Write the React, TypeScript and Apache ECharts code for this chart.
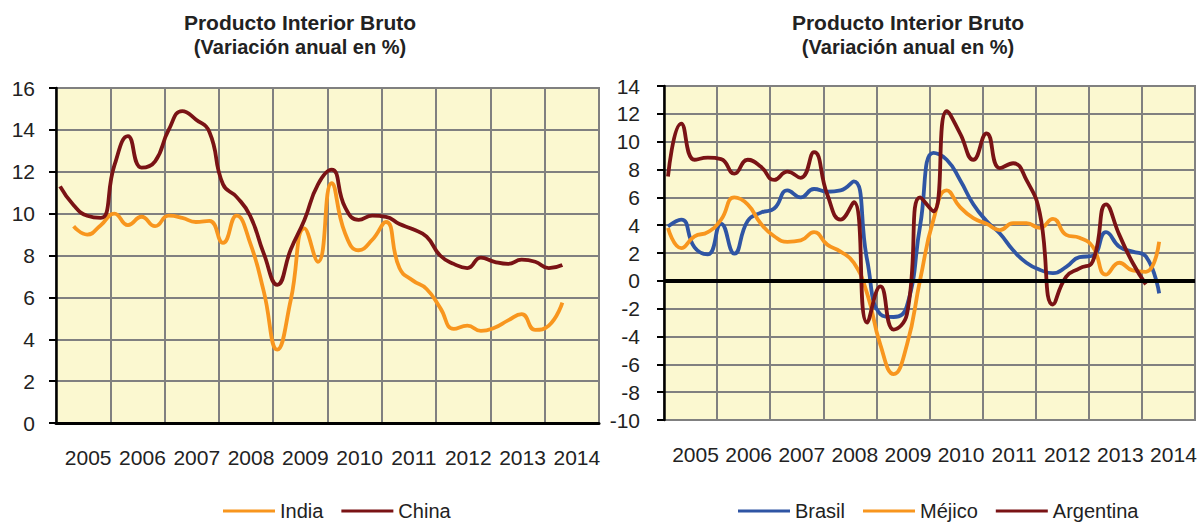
import React, { useEffect, useRef } from "react";
import * as echarts from "echarts";

// Year labels (category axis) – each year is one column of four quarters
const years = ["2005", "2006", "2007", "2008", "2009", "2010", "2011", "2012", "2013", "2014"];

// Quarterly year-on-year GDP growth (%), 2005Q1 onwards (null = no data)
const india = [null, 9.4, 9.0, 9.45, 10.0, 9.45, 9.85, 9.4, 9.9, 9.8, 9.6, 9.65, 8.6, 9.9, 8.6, 6.3, 3.5, 5.9, 9.3, 7.7, 11.45, 9.05, 8.25, 8.75, 9.6, 7.4, 6.8, 6.4, 5.5, 4.5, 4.65, 4.4, 4.55, 4.9, 5.2, 4.45, 4.65, 5.75];
const china = [11.3, 10.4, 9.9, 9.8, 12.3, 13.7, 12.2, 12.5, 14.0, 14.9, 14.5, 13.9, 11.4, 10.8, 9.9, 8.1, 6.6, 8.3, 9.7, 11.4, 12.1, 10.3, 9.7, 9.9, 9.85, 9.5, 9.25, 8.9, 8.0, 7.6, 7.4, 7.9, 7.7, 7.6, 7.8, 7.7, 7.4, 7.55];
const brasil = [3.9, 4.4, 2.4, 1.9, 4.1, 1.95, 4.3, 4.9, 5.2, 6.5, 6.0, 6.6, 6.4, 6.5, 7.15, 1.5, -2.4, -2.6, -1.8, 4.0, 9.2, 8.7, 7.25, 5.5, 4.3, 3.4, 2.2, 1.3, 0.8, 0.55, 1.0, 1.7, 1.8, 3.5, 2.45, 2.1, 1.75, -0.9];
const mejico = [3.8, 2.35, 3.2, 3.5, 4.4, 6.0, 5.5, 4.1, 3.2, 2.8, 2.9, 3.5, 2.6, 2.1, 1.3, -0.9, -4.6, -6.7, -4.6, 0.1, 4.4, 6.5, 5.3, 4.5, 4.1, 3.65, 4.15, 4.15, 3.8, 4.45, 3.3, 3.1, 2.45, 0.45, 1.3, 0.75, 0.65, 2.8];
const argentina = [7.5, 11.3, 8.7, 8.85, 8.75, 7.7, 8.7, 8.2, 7.25, 7.85, 7.4, 9.25, 6.2, 4.4, 5.65, -3.0, -0.4, -3.5, -2.4, 6.0, 5.0, 12.2, 10.6, 8.7, 10.6, 8.1, 8.45, 7.25, 4.9, -1.7, 0.3, 0.9, 1.4, 5.5, 3.3, 1.3, -0.25];

const leftTitle = "Producto Interior Bruto";
const leftSubtitle = "(Variación anual en %)";
const rightTitle = "Producto Interior Bruto";
const rightSubtitle = "(Variación anual en %)";

const FONT = "'Liberation Sans', Arial, sans-serif";
const ORANGE = "#F8961E";
const DARKRED = "#7A1315";
const BLUE = "#2F55A4";
const GRIDC = "#808080";
const TXT = "#222222";

const toXY = (vals: (number | null)[]) =>
  vals
    .map((v, i) => (v == null ? null : [i + 0.3, v]))
    .filter((p) => p !== null);

function lineSeries(name: string, data: (number | null)[], color: string, xi: number, yi: number, extra: any = {}) {
  return {
    name,
    type: "line",
    xAxisIndex: xi,
    yAxisIndex: yi,
    data: toXY(data),
    smooth: 0.5,
    symbol: "none",
    lineStyle: { color, width: 3.8 },
    itemStyle: { color },
    ...extra,
  };
}

export default function App() {
  const ref = useRef<HTMLDivElement>(null);
  useEffect(() => {
    if (!ref.current) return;
    const chart = echarts.init(ref.current, undefined, { renderer: "svg" });
    const catAxis = (gridIndex: number, showLine: boolean) => ({
      type: "category",
      gridIndex,
      data: years,
      position: "bottom",
      boundaryGap: true,
      axisLine: { show: showLine, onZero: false, lineStyle: { color: "#000", width: 3 } },
      axisTick: { show: false },
      axisLabel: { interval: 0, fontSize: 21, color: TXT, fontFamily: FONT, margin: 24, padding: [0, 0, 0, 10] },
      splitLine: { show: true, interval: 0, lineStyle: { color: GRIDC, width: 2 } },
    });
    const valX = (gridIndex: number) => ({
      type: "value",
      gridIndex,
      min: 0,
      max: 40,
      position: "bottom",
      show: false,
    });
    const valY = (gridIndex: number, min: number, max: number, margin: number) => ({
      type: "value",
      gridIndex,
      min,
      max,
      interval: 2,
      axisLine: { show: true, onZero: false, lineStyle: { color: "#000", width: 2.5 } },
      axisTick: { show: true, length: 7, lineStyle: { color: "#000", width: 2 } },
      axisLabel: { fontSize: 21, color: TXT, fontFamily: FONT, margin },
      splitLine: { show: true, lineStyle: { color: GRIDC, width: 2 } },
    });
    const gridBox = { show: true, backgroundColor: "#FBF8D0", borderColor: GRIDC, borderWidth: 2 };
    const legendBase = {
      top: 496,
      itemWidth: 52,
      itemHeight: 3,
      itemGap: 18,
      icon: "rect",
      textStyle: { fontSize: 20, color: TXT, fontFamily: FONT },
    };
    const titleText = (x: number, y: number, text: string, size: number) => ({
      type: "text",
      x,
      y,
      style: {
        text,
        font: `bold ${size}px ${FONT}`,
        fill: TXT,
        align: "center",
        verticalAlign: "middle",
      },
    });

    chart.setOption({
      animation: false,
      backgroundColor: "#ffffff",
      textStyle: { fontFamily: FONT },
      graphic: [
        titleText(300, 22, leftTitle, 21),
        titleText(300, 47, leftSubtitle, 20),
        titleText(908, 22, rightTitle, 21),
        titleText(908, 47, rightSubtitle, 20),
      ],
      grid: [
        { left: 56, top: 88, width: 543, height: 335, ...gridBox },
        { left: 664, top: 86, width: 531, height: 334, ...gridBox },
      ],
      xAxis: [catAxis(0, true), valX(0), catAxis(1, false), valX(1)],
      yAxis: [valY(0, 0, 16, 21), valY(1, -10, 14, 24)],
      legend: [
        { ...legendBase, left: 218, data: ["India", "China"] },
        { ...legendBase, left: 733, data: ["Brasil", "Méjico", "Argentina"] },
      ],
      series: [
        lineSeries("India", india, ORANGE, 1, 0),
        lineSeries("China", china, DARKRED, 1, 0),
        lineSeries("Brasil", brasil, BLUE, 3, 1),
        lineSeries("Méjico", mejico, ORANGE, 3, 1),
        lineSeries("Argentina", argentina, DARKRED, 3, 1, {
          markLine: {
            silent: true,
            symbol: "none",
            label: { show: false },
            lineStyle: { color: "#000", width: 4, type: "solid" },
            data: [{ yAxis: 0 }],
          },
        }),
      ],
    });
    return () => chart.dispose();
  }, []);
  return <div ref={ref} style={{ position: "absolute", left: 0, top: 0, width: 1200, height: 522 }} />;
}
